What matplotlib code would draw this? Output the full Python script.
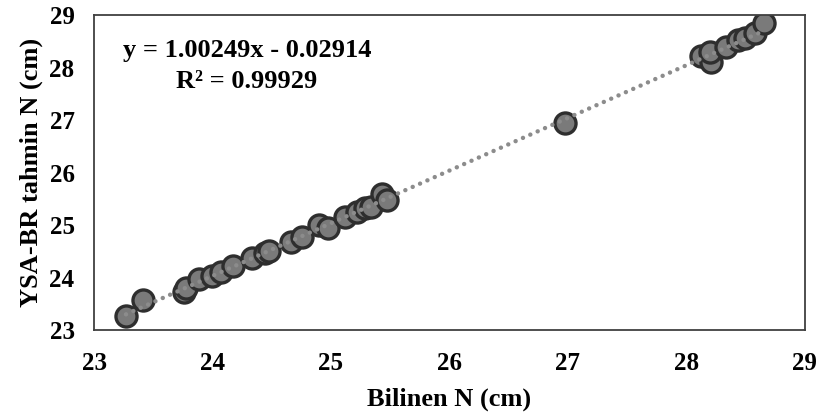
import matplotlib
matplotlib.use("Agg")
import matplotlib.pyplot as plt
import numpy as np

# known vs predicted N (cm)
known = [23.27, 23.41, 23.76, 23.78, 23.89, 24.00, 24.07, 24.17, 24.33, 24.44,
         24.48, 24.66, 24.76, 24.90, 24.98, 25.12, 25.22, 25.29, 25.34, 25.43,
         25.47, 26.98, 28.13, 28.21, 28.20, 28.34, 28.44, 28.50, 28.58, 28.66]
predicted = [23.27, 23.57, 23.73, 23.80, 23.97, 24.02, 24.11, 24.22, 24.37, 24.47,
             24.51, 24.68, 24.78, 25.00, 24.94, 25.16, 25.25, 25.32, 25.35, 25.60,
             25.48, 26.94, 28.21, 28.11, 28.30, 28.40, 28.52, 28.56, 28.66, 28.84]
slope = 1.00249
intercept = -0.02914
r2 = 0.99929

plt.rcParams['font.family'] = ['Liberation Serif', 'DejaVu Serif']
plt.rcParams['font.weight'] = 'bold'

fig = plt.figure(figsize=(8.19, 4.16), dpi=100)
ax = fig.add_axes([0.1148, 0.2067, 0.8675, 0.7572])

# trendline (round dots) across the data range
xs = np.array([min(known), max(known)])
ax.plot(xs, slope * xs + intercept, color='#8c8c8c', lw=3.2,
        linestyle=(0, (0.01, 1.8)), dash_capstyle='round', zorder=3)

ax.scatter(known, predicted, s=230, facecolor='#7a7a7a', edgecolor='#2e2e2e',
           linewidth=2.4, zorder=2)

ax.text(24.29, 28.03, f"y = {slope:.5f}x - {abs(intercept):.5f}\nR² = {r2:.5f}",
        ha='center', va='center', multialignment='center', fontsize=19,
        fontweight='bold', linespacing=1.45)

ax.set_xlim(23, 29)
ax.set_ylim(23, 29)
ax.set_xticks(range(23, 30))
ax.set_yticks(range(23, 30))
ax.tick_params(length=0, labelsize=18)
ax.tick_params(axis='x', pad=16)
ax.tick_params(axis='y', pad=14)
for s in ax.spines.values():
    s.set_color('#404040')
    s.set_linewidth(1.3)

ax.set_xlabel("Bilinen N (cm)", fontsize=19, fontweight='bold', labelpad=9)
ax.set_ylabel("YSA-BR tahmin N (cm)", fontsize=19, fontweight='bold', labelpad=5)

fig.savefig("out.png", dpi=100)
